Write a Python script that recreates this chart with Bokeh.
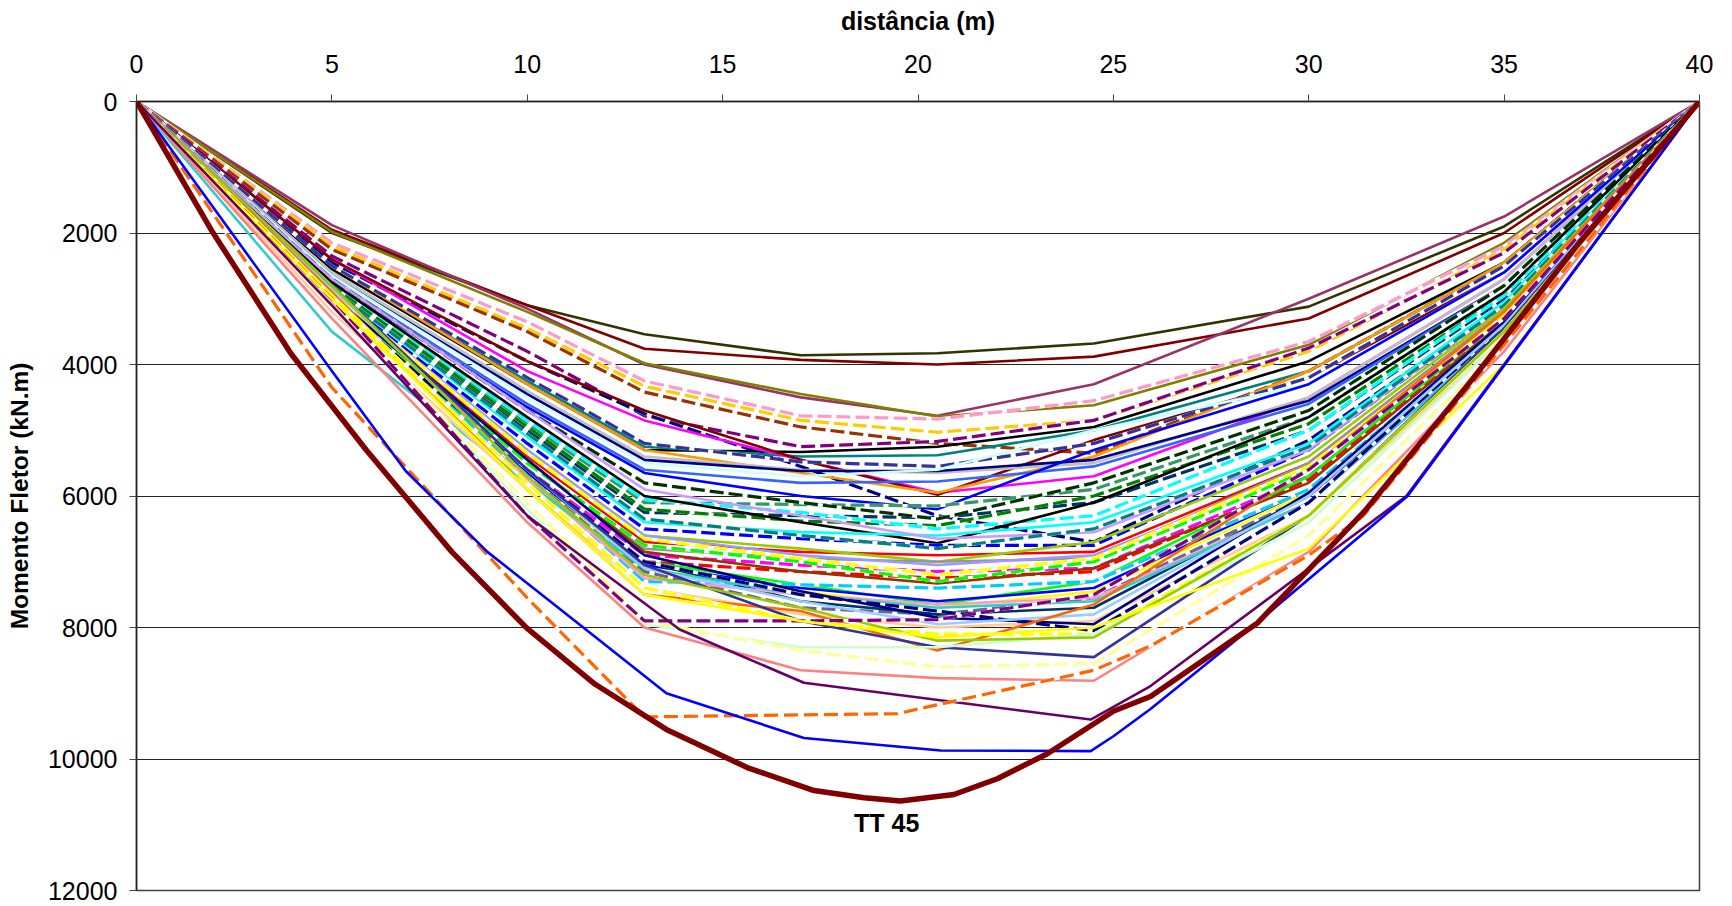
from bokeh.plotting import figure
from bokeh.models import Range1d, FixedTicker
from bokeh.core.properties import value
from bokeh.embed import file_html
from bokeh.resources import INLINE

# ---------------- data ----------------
X_TICKS = [0, 5, 10, 15, 20, 25, 30, 35, 40]
Y_TICKS = [0, 2000, 4000, 6000, 8000, 10000, 12000]

# common abscissae (m) for the envelope series
XS = [0, 5, 10, 13, 17, 20.5, 24.5, 30, 35, 40]

# upper group
u1 = [0, 2000, 3100, 3540, 3860, 3830, 3680, 3120, 1900, 0]
u2 = [0, 1950, 3100, 3760, 3930, 4000, 3880, 3300, 2000, 0]
u3 = [0, 1880, 3150, 4000, 4500, 4780, 4300, 3000, 1750, 0]
u4 = [0, 1980, 3200, 3980, 4450, 4790, 4620, 3700, 2150, 0]
u5 = [0, 2150, 3350, 4250, 4780, 4830, 4550, 3650, 2200, 0]
u6 = [0, 2200, 3450, 4330, 4850, 5030, 4850, 3800, 2250, 0]
u7 = [0, 2250, 3500, 4420, 4950, 5200, 5350, 4100, 2450, 0]
u8 = [0, 2350, 3800, 4780, 5250, 5170, 4850, 3750, 2300, 0]
u9 = [0, 2450, 3950, 4750, 5550, 6300, 6700, 5150, 3100, 0]
# middle group
m1 = [0, 2550, 4300, 5300, 5330, 5250, 4950, 3950, 2450, 0]
m2 = [0, 2500, 4250, 5250, 5400, 5380, 5000, 4100, 2450, 0]
m3 = [0, 2400, 4100, 4850, 5450, 5950, 5700, 4500, 2700, 0]
m4 = [0, 2400, 3950, 4700, 5450, 5980, 5150, 4200, 2600, 0]
m5 = [0, 2500, 4300, 5300, 5650, 5950, 5400, 4100, 2450, 0]
m6 = [0, 2500, 4200, 5200, 5480, 5550, 5200, 4200, 2500, 0]
m7 = [0, 2600, 4400, 5400, 5600, 5650, 5500, 4500, 2700, 0]
m8 = [0, 2650, 4450, 5450, 5620, 5620, 5450, 4550, 2800, 0]
m9 = [0, 2700, 4600, 5600, 5800, 5780, 5550, 4600, 2800, 0]
m10 = [0, 2650, 4500, 5500, 5700, 5600, 5000, 4300, 2600, 0]
m11 = [0, 2750, 4650, 5650, 6000, 6200, 5300, 4300, 2600, 0]
m12 = [0, 2800, 4900, 6100, 6130, 6150, 5900, 4800, 2900, 0]
m13 = [0, 2850, 5000, 6250, 6300, 6330, 6100, 5000, 3000, 0]
m14 = [0, 2800, 4950, 6200, 6380, 6450, 6000, 4900, 2950, 0]
m15 = [0, 2750, 4850, 6050, 6250, 6500, 6300, 5000, 2950, 0]
m16 = [0, 2700, 4700, 5800, 6100, 6350, 5800, 4700, 2800, 0]
m17 = [0, 2750, 4800, 6000, 6400, 6720, 6100, 4800, 2900, 0]
m18 = [0, 2900, 5200, 6500, 6650, 6750, 6750, 5300, 3100, 0]
m19 = [0, 2850, 5100, 6400, 6550, 6600, 6400, 5200, 3050, 0]
m20 = [0, 2700, 4700, 5900, 6300, 6650, 6550, 5300, 3100, 0]
m21 = [0, 2850, 5050, 6350, 6600, 6800, 6500, 5250, 3100, 0]
m22 = [0, 2950, 5400, 6700, 6850, 6900, 6850, 5500, 3200, 0]
m23 = [0, 2900, 5300, 6600, 6800, 7000, 6700, 5400, 3150, 0]
m24 = [0, 3000, 5500, 6800, 6950, 7000, 6950, 5500, 3200, 0]
m25 = [0, 3000, 5600, 6900, 7050, 7150, 7100, 5700, 3300, 0]
m26 = [0, 3050, 5700, 7000, 7150, 7250, 7150, 5750, 3300, 0]
m27 = [0, 2950, 5450, 6850, 7150, 7330, 7100, 5800, 3350, 0]
m28 = [0, 2900, 5300, 6600, 6900, 7050, 6900, 5600, 3300, 0]
m29 = [0, 2950, 5500, 6750, 7000, 7300, 7000, 5600, 3250, 0]
m30 = [0, 2900, 5350, 6650, 6950, 7200, 6950, 5550, 3250, 0]
# lower group
l1 = [0, 3000, 5600, 7000, 7350, 7650, 7300, 5700, 3300, 0]
l2 = [0, 3050, 5650, 7050, 7400, 7600, 7400, 5900, 3400, 0]
l3 = [0, 3100, 5700, 7100, 7450, 7700, 7450, 5950, 3450, 0]
l4 = [0, 3050, 5700, 7150, 7700, 7800, 7550, 6000, 3450, 0]
l5 = [0, 3000, 5600, 7000, 7600, 7800, 7700, 6000, 3450, 0]
l6 = [0, 3000, 5700, 7300, 7350, 7400, 7300, 5900, 3400, 0]
l7 = [0, 3050, 5750, 7250, 7500, 7650, 7550, 6100, 3500, 0]
l8 = [0, 3500, 5800, 7100, 7500, 7700, 7600, 6100, 3500, 0]
l9 = [0, 3200, 5900, 7400, 7800, 8000, 7900, 6300, 3600, 0]
l10 = [0, 3000, 5600, 7000, 7500, 7750, 8050, 6100, 3400, 0]
l11 = [0, 2950, 5450, 6900, 7450, 7850, 7950, 5950, 3350, 0]
l12 = [0, 2850, 5600, 7100, 7600, 7950, 7800, 6000, 3400, 0]
l13 = [0, 2900, 5900, 7500, 7750, 8350, 7650, 5600, 3200, 0]
l14 = [0, 2800, 5600, 7050, 7900, 8300, 8450, 6300, 3450, 0]
l15 = [0, 2950, 5800, 7400, 7900, 8100, 8100, 6300, 3500, 0]
l16 = [0, 3100, 6200, 7950, 8300, 8300, 8100, 6400, 3600, 0]
l17 = [0, 2800, 5700, 7200, 7700, 8200, 8150, 6300, 3500, 0]
l18 = [0, 3100, 6100, 7900, 8350, 8600, 8550, 6600, 3700, 0]
l19 = [0, 3000, 6300, 7900, 7900, 7880, 7500, 5600, 3300, 0]
l20 = [0, 3300, 6400, 8000, 8650, 8770, 8810, 6850, 3800, 0]
l21 = [0, 3000, 5900, 7500, 7900, 8150, 8000, 6800, 4000, 0]

# outlying series with their own abscissae
purple_x = [0, 5, 10, 13.9, 17.08, 24.42, 25.95, 32.5, 40]
purple_y = [0, 3100, 6300, 8030, 8840, 9400, 8890, 6000, 0]
odash_x = [0, 5, 10, 13.0, 19.47, 24.5, 25.95, 30, 31.4, 35, 40]
odash_y = [0, 4350, 7550, 9360, 9310, 8650, 8280, 6900, 6300, 3700, 0]
blue_x = [0, 5, 6.89, 8.98, 11.46, 13.56, 17.08, 20.58, 24.42, 25.01, 25.95, 28.51, 32.53, 40]
blue_y = [0, 4100, 5620, 6850, 8010, 9000, 9680, 9870, 9880, 9650, 9240, 8010, 6000, 0]
tt45_x = [0, 1.95, 3.96, 5.88, 6.98, 8.07, 9.99, 11.73, 13.56, 15.63, 17.34, 18.62,
          19.55, 20.92, 22.03, 23.31, 25.01, 25.95, 28.69, 31.43, 34.18, 36.92, 40]
tt45_y = [0, 1990, 3840, 5300, 6080, 6850, 8010, 8860, 9550, 10130, 10480, 10590,
          10640, 10540, 10300, 9920, 9270, 9050, 7930, 6230, 4230, 2150, 0]
tt45_label = "TT 45"
tt45_label_x = 19.2
tt45_label_y = 10970

# ---------------- styles ----------------
SERIES = [
    (u1, "#333300", False), (u2, "#800000", False), (u3, "#993366", False),
    (u4, "#808000", False), (u5, "#FF99CC", True), (u6, "#FFCC00", True),
    (u7, "#993300", True), (u8, "#800080", True), (u9, "#000080", True),
    (m1, "#000000", False), (m2, "#008080", False), (m3, "#FF00FF", False),
    (m4, "#800000", False), (m5, "#FF9900", False), (m6, "#333399", True),
    (m7, "#C0C0C0", False), (m8, "#000080", False), (m9, "#3366FF", False),
    (m10, "#CCFFFF", False), (m11, "#0000FF", False), (m12, "#339966", True),
    (m13, "#003366", True), (m14, "#008000", True), (m15, "#00FFFF", True),
    (m16, "#003300", True), (m17, "#000000", False), (m18, "#0000FF", True),
    (m19, "#00FFFF", False), (m20, "#CC99FF", False), (m21, "#008080", True),
    (m22, "#FF0000", False), (m23, "#99CC00", False), (m24, "#969696", False),
    (m25, "#FF00FF", True), (m26, "#FF0000", True), (m27, "#993300", False),
    (m28, "#9999FF", False), (m29, "#00FF00", True), (m30, "#FFFF00", True),
    (l1, "#00FF00", False), (l2, "#0000FF", False), (l3, "#FFFF00", False),
    (l4, "#666699", True), (l5, "#003366", False), (l6, "#00CCFF", True),
    (l7, "#FF99CC", False), (l8, "#33CCCC", False), (l9, "#FFCC99", False),
    (l10, "#000080", True), (l11, "#000080", False), (l12, "#99CCFF", False),
    (l13, "#FF6600", False), (l14, "#333399", False), (l15, "#FFFF00", True),
    (l16, "#CCFFCC", False), (l17, "#99CC00", False), (l18, "#FFFF99", True),
    (l19, "#800080", True), (l20, "#FF8080", False), (l21, "#FFFF00", False),
]

FONT = "Liberation Sans"

p = figure(width=1716, height=906,
           x_range=Range1d(0, 40), y_range=Range1d(12000, 0),
           x_axis_location="above", output_backend="svg", toolbar_location=None,
           min_border_left=136, min_border_top=101, min_border_right=17, min_border_bottom=16)
p.background_fill_color = "white"
p.border_fill_color = "white"
p.outline_line_color = "#404040"
p.outline_line_width = 1.5

xa = p.xaxis[0]
xa.ticker = FixedTicker(ticks=X_TICKS)
xa.axis_label = "distância (m)"
ya = p.yaxis[0]
ya.ticker = FixedTicker(ticks=Y_TICKS)
ya.axis_label = "Momento Fletor (kN.m)"
for ax in (xa, ya):
    ax.major_label_text_font = FONT
    ax.major_label_text_font_size = "25px"
    ax.major_label_text_color = "black"
    ax.axis_label_text_font = FONT
    ax.axis_label_text_font_style = "bold"
    ax.axis_label_text_color = "black"
    ax.major_tick_out = 7
    ax.major_tick_in = 0
    ax.minor_tick_out = 0
    ax.minor_tick_in = 0
    ax.axis_line_color = "#222222"
    ax.axis_line_width = 1.5
    ax.major_tick_line_color = "#444444"
xa.axis_label_text_font_size = "25px"
ya.axis_label_text_font_size = "24.5px"
xa.major_label_standoff = 22
xa.axis_label_standoff = 17
ya.major_label_standoff = 12
ya.axis_label_standoff = 12

p.xgrid.visible = False
p.ygrid.ticker = FixedTicker(ticks=Y_TICKS)
p.ygrid.grid_line_color = "#222222"
p.ygrid.grid_line_width = 1

for vals, col, dashed in SERIES:
    if dashed:
        p.line(XS, vals, line_color="white", line_width=3.2)
        p.line(XS, vals, line_color=col, line_width=3.2, line_dash="14 5")
    else:
        p.line(XS, vals, line_color=col, line_width=2.6)

p.line(purple_x, purple_y, line_color="#660066", line_width=2.6)
p.line(odash_x, odash_y, line_color="white", line_width=3.2)
p.line(odash_x, odash_y, line_color="#FF6600", line_width=3.2, line_dash="14 6")
p.line(blue_x, blue_y, line_color="#0000FF", line_width=2.6)
p.line(tt45_x, tt45_y, line_color="#800000", line_width=5.5)

p.text(x=[tt45_label_x], y=[tt45_label_y], text=[tt45_label],
       text_font=value(FONT), text_font_style="bold", text_font_size="25px",
       text_align="center", text_baseline="middle", text_color="black")

open("out.html", "w").write(file_html(p, INLINE))
